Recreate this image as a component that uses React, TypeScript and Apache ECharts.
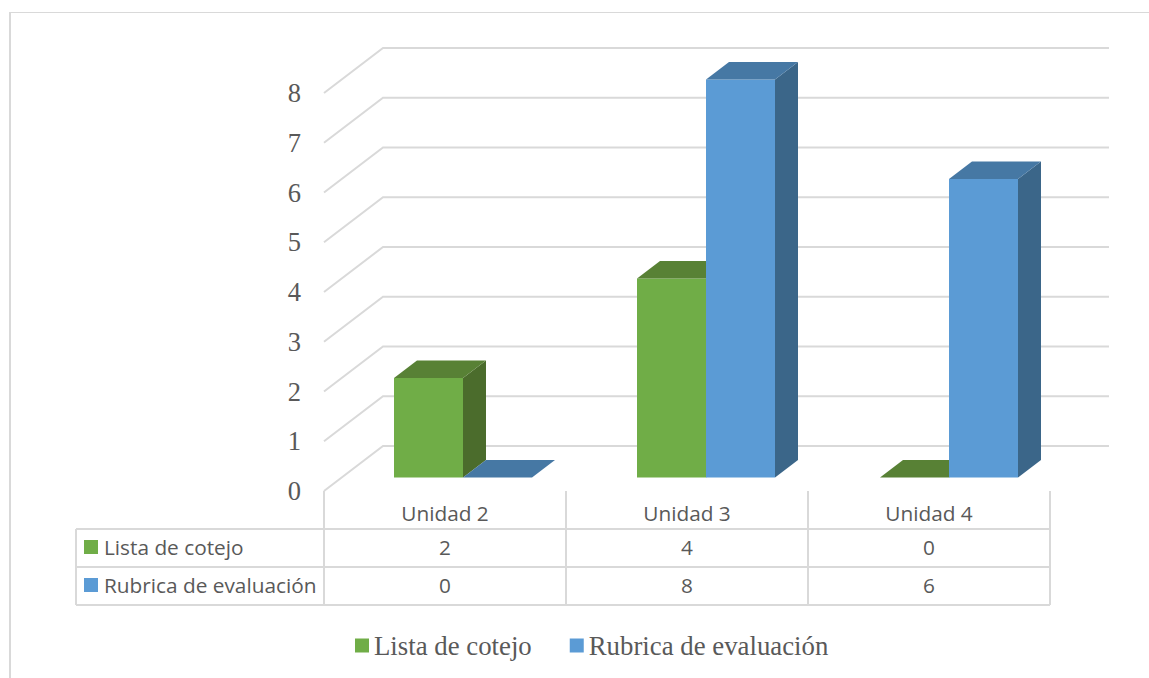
import React, { useEffect, useRef } from "react";
import * as echarts from "echarts";

const categories = ["Unidad 2", "Unidad 3", "Unidad 4"];
const listaName = "Lista de cotejo";
const rubricaName = "Rubrica de evaluación";
const listaValues = [2, 4, 0];
const rubricaValues = [0, 8, 6];
const yTicks = [0, 1, 2, 3, 4, 5, 6, 7, 8];

const GRID = "#d9d9d9";
const TEXT = "#595959";
const SERIF = "'Liberation Serif', serif";
const SANS = "'Open Sans', sans-serif";
const GREEN = { front: "#70ad47", top: "#588135", side: "#4b6c2c" };
const BLUE = { front: "#5b9bd5", top: "#4678a4", side: "#3b6689" };

function barRender(side: number, c: { front: string; top: string; side: string }) {
  return (params: any, api: any) => {
    const i = api.value(0);
    const v = api.value(1);
    const [cx, yTop] = api.coord([i, v]);
    const [, yBase] = api.coord([i, 0]);
    const w = 69;
    const dx = 23;
    const dy = 17.5;
    const x0 = side < 0 ? cx - w : cx;
    const x1 = x0 + w;
    const children: any[] = [];
    if (v > 0) {
      children.push({
        type: "polygon",
        shape: { points: [[x1, yTop], [x1 + dx, yTop - dy], [x1 + dx, yBase - dy], [x1, yBase]] },
        style: { fill: c.side },
      });
      children.push({
        type: "rect",
        shape: { x: x0, y: yTop, width: w, height: yBase - yTop },
        style: { fill: c.front },
      });
    }
    children.push({
      type: "polygon",
      shape: { points: [[x0, yTop], [x0 + dx, yTop - dy], [x1 + dx, yTop - dy], [x1, yTop]] },
      style: { fill: c.top },
    });
    return { type: "group", children };
  };
}

function wallRender(params: any, api: any) {
  const v = api.value(0);
  const band = api.size([1, 0])[0];
  const [xFirst, yf] = api.coord([0, v]);
  const [xLast] = api.coord([categories.length - 1, v]);
  const xf = xFirst - band / 2;
  const xr = xLast + band / 2;
  return {
    type: "polyline",
    shape: { points: [[xf, yf], [xf + 59, yf - 45], [xr + 59, yf - 45]] },
    style: { stroke: GRID, lineWidth: 2, fill: "none" },
    silent: true,
  };
}

function line(x1: number, y1: number, x2: number, y2: number, lineWidth = 2) {
  return {
    type: "line",
    silent: true,
    shape: { x1, y1, x2, y2 },
    style: { stroke: GRID, lineWidth },
  };
}

function cellText(text: string, x: number, y: number, align = "center") {
  return {
    type: "text",
    silent: true,
    x,
    y,
    style: { text, fill: TEXT, font: `20.8px ${SANS}`, align, verticalAlign: "middle" },
  };
}

function swatch(x: number, y: number, fill: string) {
  return { type: "rect", silent: true, shape: { x, y, width: 14, height: 14 }, style: { fill } };
}

export default function App() {
  const ref = useRef<HTMLDivElement>(null);
  useEffect(() => {
    const chart = echarts.init(ref.current!, undefined, { renderer: "svg" });
    const colX = [324, 566, 808, 1050];
    const rowY = [529, 567, 605];
    const rowMid = [546.5, 584.5];
    chart.setOption({
      animation: false,
      grid: [
        { left: 341.5, top: 79.5, width: 729, height: 398 },
        { left: 324, top: 93, width: 726, height: 398 },
      ],
      xAxis: [
        { type: "category", gridIndex: 0, data: categories, show: false },
        {
          type: "category",
          gridIndex: 1,
          data: categories,
          axisLine: { show: false },
          axisTick: { show: false },
          axisLabel: { margin: 11, color: TEXT, fontFamily: SANS, fontSize: 20.8 },
        },
      ],
      yAxis: [
        { type: "value", gridIndex: 0, min: 0, max: 8, interval: 1, show: false },
        {
          type: "value",
          gridIndex: 1,
          min: 0,
          max: 8,
          interval: 1,
          axisLine: { show: false },
          axisTick: { show: false },
          splitLine: { show: false },
          axisLabel: { margin: 23, color: TEXT, fontFamily: SERIF, fontSize: 26.5 },
        },
      ],
      legend: {
        data: [listaName, rubricaName],
        left: 350,
        top: 627,
        itemWidth: 14,
        itemHeight: 14,
        itemGap: 38,
        icon: "rect",
        textStyle: { color: TEXT, fontFamily: SERIF, fontSize: 26.8 },
        selectedMode: false,
      },
      series: [
        {
          type: "custom",
          name: "walls",
          xAxisIndex: 1,
          yAxisIndex: 1,
          clip: false,
          z: 1,
          data: yTicks.map((t) => [t]),
          encode: { y: 0 },
          renderItem: wallRender,
        },
        {
          type: "custom",
          name: listaName,
          xAxisIndex: 0,
          yAxisIndex: 0,
          clip: false,
          z: 2,
          itemStyle: { color: GREEN.front },
          data: listaValues.map((v, i) => [i, v]),
          renderItem: barRender(-1, GREEN),
        },
        {
          type: "custom",
          name: rubricaName,
          xAxisIndex: 0,
          yAxisIndex: 0,
          clip: false,
          z: 3,
          itemStyle: { color: BLUE.front },
          data: rubricaValues.map((v, i) => [i, v]),
          renderItem: barRender(1, BLUE),
        },
      ],
      graphic: {
        elements: [
          line(10, 12, 10, 678, 2),
          line(10, 12.5, 1149, 12.5, 1),
          ...colX.map((x) => line(x, 491, x, 605)),
          ...rowY.map((y) => line(76, y, 1050, y)),
          line(76, 529, 76, 605),
          swatch(84, 540, GREEN.front),
          swatch(84, 578, BLUE.front),
          cellText(listaName, 104, rowMid[0], "left"),
          cellText(rubricaName, 104, rowMid[1], "left"),
          ...listaValues.map((v, i) => cellText(String(v), (colX[i] + colX[i + 1]) / 2, rowMid[0])),
          ...rubricaValues.map((v, i) => cellText(String(v), (colX[i] + colX[i + 1]) / 2, rowMid[1])),
        ],
      },
    });
    return () => chart.dispose();
  }, []);
  return <div ref={ref} style={{ position: "absolute", left: 0, top: 0, width: 1149, height: 678 }} />;
}
